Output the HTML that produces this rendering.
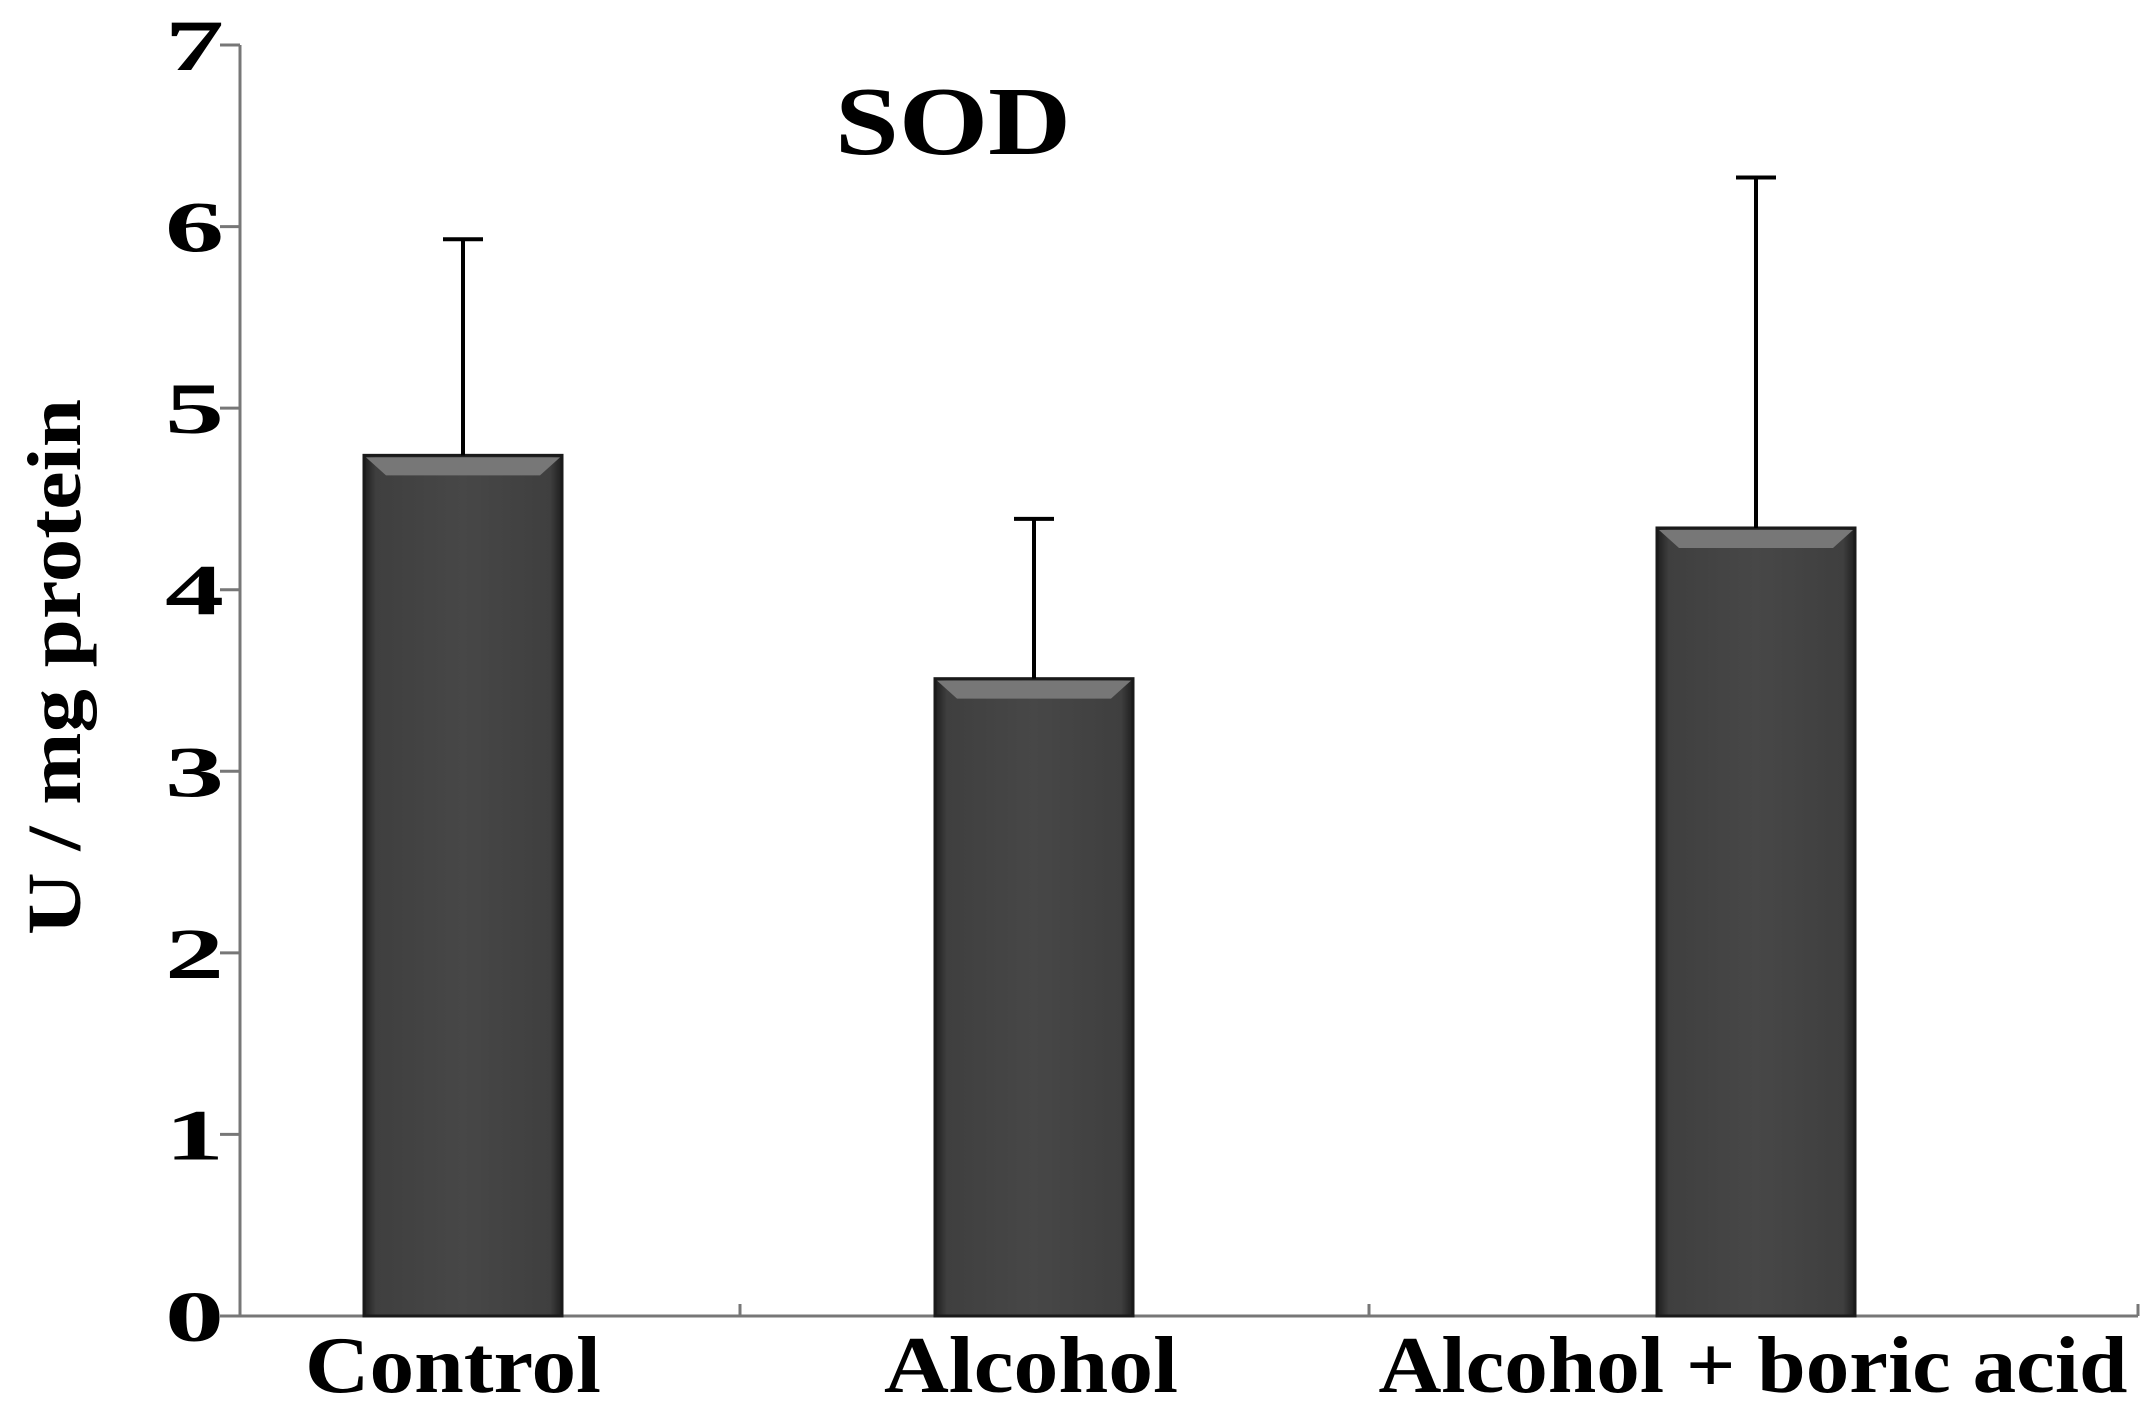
<!DOCTYPE html>
<html><head><meta charset="utf-8">
<style>
html,body{margin:0;padding:0;background:#fff;}
svg{display:block;font-family:"Liberation Serif",serif;font-weight:bold;}
</style></head>
<body>
<svg id="chart" width="2150" height="1409" viewBox="0 0 2150 1409" xmlns="http://www.w3.org/2000/svg">
<defs>
<linearGradient id="barg" x1="0" x2="1" y1="0" y2="0">
<stop offset="0" stop-color="#1e1e1e"/><stop offset="0.06" stop-color="#3f3f3f"/><stop offset="0.5" stop-color="#474747"/><stop offset="0.94" stop-color="#3f3f3f"/><stop offset="1" stop-color="#1e1e1e"/>
</linearGradient>
</defs>
<g id="plot"></g>
</svg>
<script>
const categories = ["Control", "Alcohol", "Alcohol + boric acid"];
const means = [4.74, 3.51, 4.34];
const errors = [1.19, 0.88, 1.93];
const yTicks = [0, 1, 2, 3, 4, 5, 6, 7];
const yTitle = "U / mg protein";
const chartTitle = "SOD";

// layout (not data)
const x0 = 240, x1 = 2138, y0 = 1316, yTop = 45, yMax = 7;
const catCenters = [463, 1034, 1756];
const labelCenters = [453, 1031, 1753];
const labelWidths = [296, 294, 749];
const catDividers = [740, 1369];
const barW = 198;
function y(v){ return y0 - (v / yMax) * (y0 - yTop); }
function xc(i){ return catCenters[i]; }

const NS = "http://www.w3.org/2000/svg";
const g = document.getElementById('plot');
function mk(tag, attrs, parent){ const e = document.createElementNS(NS, tag); for (const k in attrs) e.setAttribute(k, attrs[k]); (parent||g).appendChild(e); return e; }

let ax = mk('line', {x1:x0, y1:yTop, x2:x0, y2:y0, stroke:'#777', 'stroke-width':3});


let bx = mk('line', {x1:x0, y1:y0, x2:x1, y2:y0, stroke:'#777', 'stroke-width':3});


[...catDividers, x1].forEach(function(d){
  let t = mk('line', {x1:d, y1:y0, x2:d, y2:y0-12, stroke:'#777', 'stroke-width':3});
  
  
});

yTicks.forEach(function(v){
  let t = mk('line', {x1:x0-20, y1:y(v), x2:x0, y2:y(v), stroke:'#777', 'stroke-width':3});
  
  
  let l = mk('text', {x:165, y:y(v)+25, 'font-size':72, fill:'#000', textLength:59, lengthAdjust:'spacingAndGlyphs'});
  l.textContent = v;
  
  
});

categories.forEach(function(c, i){
  const cx = xc(i), top = y(means[i]), L = cx - barW/2;
  let b = mk('rect', {x:L, y:top, width:barW, height:y0-top, fill:'url(#barg)', stroke:'#1a1a1a', 'stroke-width':3});
  
  
  let bev = mk('polygon', {points:(L+2)+','+(top+2)+' '+(L+barW-2)+','+(top+2)+' '+(L+barW-22)+','+(top+20)+' '+(L+22)+','+(top+20), fill:'#777'});
  
  
  const et = y(means[i] + errors[i]);
  let e1 = mk('line', {x1:cx, y1:top, x2:cx, y2:et, stroke:'#000', 'stroke-width':4});
  
  
  let e2 = mk('line', {x1:cx-20, y1:et, x2:cx+20, y2:et, stroke:'#000', 'stroke-width':4});
  
  
  let l = mk('text', {x:labelCenters[i]-labelWidths[i]/2, y:1392, 'font-size':80, fill:'#000', textLength:labelWidths[i], lengthAdjust:'spacingAndGlyphs'});
  l.textContent = c;
  
  
});

let tt = mk('text', {x:835, y:154, 'font-size':98, fill:'#000', textLength:236, lengthAdjust:'spacingAndGlyphs'});
tt.textContent = chartTitle;



let yt = mk('text', {x:0, y:0, 'font-size':76, fill:'#000', textLength:536, lengthAdjust:'spacingAndGlyphs', transform:'translate(80,935) rotate(-90)'});
yt.textContent = yTitle;


</script>
</body></html>
